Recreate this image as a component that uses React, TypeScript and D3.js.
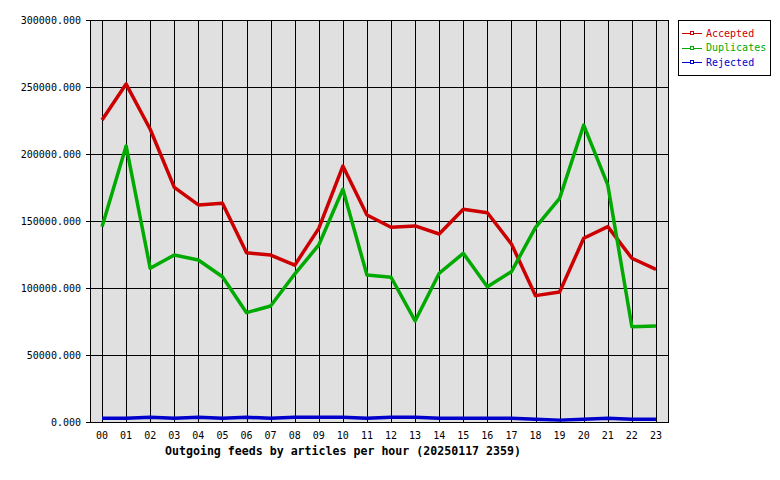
import React, { useRef, useEffect } from 'react';
import * as d3 from 'd3';

const hours = ['00', '01', '02', '03', '04', '05', '06', '07', '08', '09', '10', '11',
    '12', '13', '14', '15', '16', '17', '18', '19', '20', '21', '22', '23'];

const accepted = [225400, 252200, 218500, 175100, 162000, 163200, 126300, 124600, 117000, 144500, 191000, 154500,
    145300, 146300, 140300, 158700, 156200, 132800, 94300, 97000, 137100, 145800, 122200, 113900];

const duplicates = [145800, 206000, 114700, 124600, 120900, 108400, 81600, 86600, 110400, 132100, 173700, 109700,
    108000, 75400, 111000, 125900, 101000, 112200, 145300, 166900, 221600, 176900, 71100, 71600];

const rejected = [2800, 2800, 3500, 2800, 3500, 2800, 3500, 2800, 3500, 3500, 3500, 2800,
    3500, 3500, 2800, 2800, 2800, 2800, 2100, 1400, 2100, 2800, 2100, 2100];

const yTicks = [0, 50000, 100000, 150000, 200000, 250000, 300000];

const seriesNames = ['Accepted', 'Duplicates', 'Rejected'];
const seriesColors = ['#cc0000', '#00aa00', '#0000cc'];

const title = 'Outgoing feeds by articles per hour (20250117 2359)';

const App: React.FC = () => {
    const svgRef = useRef<SVGSVGElement | null>(null);

    useEffect(() => {
        const svg = d3.select(svgRef.current);
        svg.selectAll('*').remove();

        const plot = { left: 90, top: 20, right: 668, bottom: 422 };
        const font = '"DejaVu Sans Mono", monospace';

        svg.append('rect').attr('width', 780).attr('height', 480).attr('fill', '#ffffff');

        const x = d3.scalePoint<string>().domain(hours).range([plot.left, plot.right]).padding(0.5);
        const y = d3.scaleLinear().domain([0, 300000]).range([plot.bottom, plot.top]);

        svg.append('rect')
            .attr('x', plot.left)
            .attr('y', plot.top)
            .attr('width', plot.right - plot.left)
            .attr('height', plot.bottom - plot.top)
            .attr('fill', '#e0e0e0');

        // grid
        svg.append('g')
            .selectAll('line')
            .data(hours)
            .enter()
            .append('line')
            .attr('x1', d => Math.round(x(d)!) + 0.5)
            .attr('x2', d => Math.round(x(d)!) + 0.5)
            .attr('y1', plot.top)
            .attr('y2', plot.bottom)
            .attr('stroke', '#000')
            .attr('stroke-width', 1);

        svg.append('g')
            .selectAll('line')
            .data(yTicks)
            .enter()
            .append('line')
            .attr('x1', plot.left - 4)
            .attr('x2', plot.right)
            .attr('y1', d => Math.round(y(d)) + 0.5)
            .attr('y2', d => Math.round(y(d)) + 0.5)
            .attr('stroke', '#000')
            .attr('stroke-width', 1);

        svg.append('rect')
            .attr('x', plot.left + 0.5)
            .attr('y', plot.top + 0.5)
            .attr('width', plot.right - plot.left)
            .attr('height', plot.bottom - plot.top)
            .attr('fill', 'none')
            .attr('stroke', '#000')
            .attr('stroke-width', 1);

        // y labels
        svg.append('g')
            .selectAll('text')
            .data(yTicks)
            .enter()
            .append('text')
            .attr('x', 81)
            .attr('y', d => y(d))
            .attr('dy', '0.35em')
            .attr('text-anchor', 'end')
            .style('font-family', font)
            .style('font-size', '10px')
            .text(d => d3.format('.3f')(d));

        // x labels
        svg.append('g')
            .selectAll('text')
            .data(hours)
            .enter()
            .append('text')
            .attr('x', d => x(d)!)
            .attr('y', 439)
            .attr('text-anchor', 'middle')
            .style('font-family', font)
            .style('font-size', '10px')
            .text(d => d);

        svg.append('text')
            .attr('x', 165)
            .attr('y', 455)
            .style('font-family', font)
            .style('font-size', '11.6px')
            .style('font-weight', 'bold')
            .text(title);

        const line = d3.line<number>()
            .x((_, i) => x(hours[i])!)
            .y(d => y(d));

        [accepted, duplicates, rejected].forEach((values, i) => {
            svg.append('path')
                .datum(values)
                .attr('d', line)
                .attr('fill', 'none')
                .attr('stroke', seriesColors[i])
                .attr('stroke-width', 3.5)
                .attr('stroke-linejoin', 'round');
        });

        // legend
        const legend = svg.append('g').attr('transform', 'translate(678,20)');
        legend.append('rect')
            .attr('x', 0.5)
            .attr('y', 0.5)
            .attr('width', 92)
            .attr('height', 55)
            .attr('fill', '#ffffff')
            .attr('stroke', '#000');

        seriesNames.forEach((name, i) => {
            const cy = 13 + i * 14.5;
            legend.append('line')
                .attr('x1', 4)
                .attr('x2', 24)
                .attr('y1', Math.round(cy) + 0.5)
                .attr('y2', Math.round(cy) + 0.5)
                .attr('stroke', seriesColors[i])
                .attr('stroke-width', 1);
            legend.append('rect')
                .attr('x', 12.5)
                .attr('y', Math.round(cy) - 1.5)
                .attr('width', 3)
                .attr('height', 3)
                .attr('fill', '#ffffff')
                .attr('stroke', seriesColors[i])
                .attr('stroke-width', 1);
            legend.append('text')
                .attr('x', 28)
                .attr('y', cy)
                .attr('dy', '0.35em')
                .attr('fill', seriesColors[i])
                .style('font-family', font)
                .style('font-size', '10px')
                .text(name);
        });
    }, []);

    return (
        <svg
            ref={svgRef}
            width={780}
            height={480}
            style={{ position: 'absolute', left: 0, top: 0, display: 'block' }}
        />
    );
};

export default App;
